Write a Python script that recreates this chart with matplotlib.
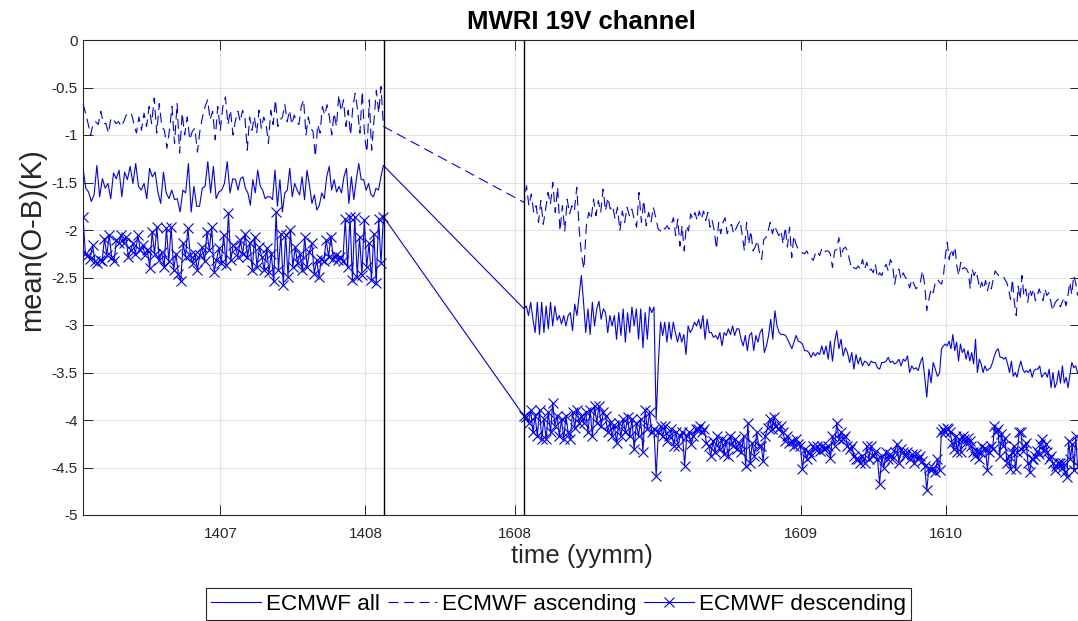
import numpy as np
import matplotlib
matplotlib.use("Agg")
import matplotlib.pyplot as plt
from matplotlib.lines import Line2D

plt.rcParams['font.family'] = ['Liberation Sans', 'DejaVu Sans']
plt.rcParams['axes.unicode_minus'] = False

##############################
#  data (mean O-B, K)
##############################
#-- time is counted in days from the first plotted sample
seg1_edges = [0.0, 32.2, 63.4]                     # 1406-1408 period
seg2_edges = [93.1, 121.9, 151.4, 180.8, 209.9]    # 1607-1610 period

tick_days = [29.0, 59.6, 91.2, 151.5, 182.1]
tick_labels = ['1407', '1408', '1608', '1609', '1610']
break_days = [63.5, 93.15]

ytick_vals = [-5, -4.5, -4, -3.5, -3, -2.5, -2, -1.5, -1, -0.5, 0]
ytick_labels = ['-5', '-4.5', '-4', '-3.5', '-3', '-2.5', '-2', '-1.5', '-1', '-0.5', '0']

#-- ECMWF ascending
asc1 = [
	[-0.67, -0.77, -0.88, -1.00, -0.88, -0.86, -0.89, -0.75, -0.88, -0.88, -0.98, -0.82, -0.84, -0.88, -0.86,
	 -0.91, -0.86, -0.79, -0.77, -0.77, -0.88, -0.98, -0.81, -0.95, -0.77, -0.91, -0.70, -0.88, -0.61, -0.98,
	 -0.67, -0.91, -0.95, -1.14, -0.95, -0.70, -1.09, -0.67, -1.19, -0.77, -1.00, -0.81, -1.05, -0.96, -0.93,
	 -1.18, -0.95, -0.81, -0.70, -0.63, -0.84, -0.75, -1.05, -0.70, -0.95, -0.70, -0.60, -0.89, -0.74, -1.00],
	[-0.84, -0.75, -0.86, -0.74, -0.82, -1.16, -0.81, -0.95, -0.81, -0.98, -0.74, -0.93, -0.81, -0.88, -1.09,
	 -0.74, -0.89, -0.63, -0.91, -0.84, -0.81, -0.68, -0.86, -0.74, -0.89, -0.79, -0.86, -0.89, -0.70, -0.63,
	 -1.00, -0.81, -0.93, -0.96, -1.23, -0.89, -0.98, -0.70, -0.79, -0.68, -0.81, -1.00, -0.77, -0.91, -0.58,
	 -0.75, -0.63, -0.91, -0.74, -1.00, -0.70, -0.56, -0.74, -0.98, -0.54, -1.02, -1.18, -0.63, -1.16, -0.84,
	 -0.53, -0.77, -0.49, -0.91],
]
asc2 = [
	[-1.71, -1.535, -1.745, -1.62, -1.815, -1.745, -1.92, -1.69, -1.94, -1.78, -1.605, -1.73, -1.50, -1.815,
	 -1.55, -2.01, -1.745, -2.01, -1.675, -1.83, -1.745, -1.80, -1.55, -1.99, -2.27, -2.41, -1.956, -1.815,
	 -1.886, -1.675, -1.85, -1.69, -1.815, -1.57, -1.80, -1.66, -1.78, -1.745, -1.886, -1.76, -2.01, -1.80,
	 -1.92, -1.76, -1.85, -1.78, -1.886, -1.97, -1.605, -1.92, -1.69, -1.956, -1.815, -1.92, -1.76, -1.87, -1.99],
	[-2.01, -1.97, -1.99, -1.956, -1.99, -1.94, -1.87, -2.06, -1.886, -2.17, -1.956, -2.22, -1.956, -2.01,
	 -1.83, -1.886, -1.815, -1.90, -1.80, -1.886, -1.80, -1.90, -1.815, -1.97, -1.90, -2.01, -2.20, -1.92,
	 -2.04, -1.92, -1.87, -2.04, -1.97, -1.94, -2.04, -1.99, -1.94, -1.90, -2.06, -2.22, -1.92, -2.15, -2.01,
	 -2.22, -2.18, -2.11, -2.24, -2.31, -2.10, -2.08, -2.01, -1.92, -2.04, -1.956, -2.01, -2.06, -2.01, -2.15,
	 -1.97, -2.18, -1.97, -2.29, -2.06, -2.15, -2.20],
	[-2.22, -2.24, -2.25, -2.22, -2.27, -2.29, -2.32, -2.25, -2.22, -2.27, -2.20, -2.24, -2.22, -2.22, -2.25,
	 -2.395, -2.22, -2.20, -2.08, -2.29, -2.20, -2.18, -2.22, -2.32, -2.41, -2.395, -2.41, -2.38, -2.41, -2.31,
	 -2.41, -2.34, -2.43, -2.41, -2.45, -2.36, -2.50, -2.45, -2.48, -2.41, -2.36, -2.43, -2.31, -2.36, -2.57,
	 -2.45, -2.41, -2.52, -2.45, -2.50, -2.52, -2.61, -2.52, -2.57, -2.62, -2.59, -2.55, -2.43, -2.57, -2.85,
	 -2.73, -2.62, -2.66, -2.55, -2.52],
	[-2.55, -2.57, -2.48, -2.27, -2.13, -2.31, -2.20, -2.27, -2.18, -2.38, -2.48, -2.34, -2.41, -2.395, -2.41,
	 -2.45, -2.62, -2.41, -2.48, -2.43, -2.52, -2.62, -2.55, -2.62, -2.53, -2.64, -2.55, -2.62, -2.52, -2.43,
	 -2.46, -2.48, -2.48, -2.48, -2.52, -2.55, -2.62, -2.73, -2.52, -2.76, -2.90, -2.59, -2.73, -2.48, -2.69,
	 -2.62, -2.76, -2.62, -2.69, -2.62, -2.745, -2.69, -2.62, -2.69, -2.745, -2.62, -2.69, -2.66, -2.745,
	 -2.85, -2.78, -2.745, -2.73, -2.81, -2.76, -2.71, -2.80, -2.69, -2.55, -2.68, -2.48, -2.55, -2.69],
]

#-- ECMWF all
all1 = [
	[-1.35, -1.56, -1.60, -1.70, -1.63, -1.32, -1.65, -1.46, -1.56, -1.51, -1.67, -1.40, -1.46, -1.37, -1.65,
	 -1.39, -1.47, -1.33, -1.51, -1.30, -1.54, -1.58, -1.51, -1.67, -1.35, -1.44, -1.39, -1.60, -1.72, -1.39,
	 -1.61, -1.67, -1.58, -1.68, -1.67, -1.81, -1.58, -1.61, -1.30, -1.81, -1.54, -1.75, -1.75, -1.56, -1.54,
	 -1.28, -1.61, -1.33, -1.67, -1.60, -1.58, -1.51, -1.28, -1.61, -1.46],
	[-1.47, -1.58, -1.46, -1.44, -1.56, -1.61, -1.74, -1.47, -1.61, -1.37, -1.54, -1.58, -1.67, -1.65, -1.65,
	 -1.68, -1.37, -1.75, -1.47, -1.81, -1.61, -1.58, -1.35, -1.65, -1.51, -1.58, -1.63, -1.44, -1.68, -1.37,
	 -1.53, -1.72, -1.63, -1.79, -1.74, -1.61, -1.67, -1.44, -1.33, -1.58, -1.47, -1.60, -1.54, -1.61, -1.44,
	 -1.35, -1.72, -1.44, -1.68, -1.47, -1.30, -1.47, -1.47, -1.58, -1.51, -1.63, -1.65, -1.56, -1.58, -1.44,
	 -1.32],
]
all2 = [
	[-2.83, -2.80, -2.90, -2.76, -2.94, -3.08, -2.76, -3.10, -2.76, -3.08, -2.80, -3.04, -2.76, -3.01, -2.80,
	 -2.95, -2.90, -2.99, -2.90, -3.01, -2.90, -2.87, -3.06, -2.78, -2.90, -2.69, -2.48, -2.76, -3.08, -2.83,
	 -3.10, -2.76, -3.01, -2.83, -2.75, -2.94, -2.83, -2.87, -3.08, -2.90, -3.01, -2.90, -3.15, -2.87, -3.11,
	 -2.83, -3.18, -2.87, -3.08, -2.81, -3.01, -2.83, -3.15, -2.83, -3.24, -2.87, -3.15, -2.81, -2.87, -2.81,
	 -4.00, -3.40],
	[-2.97, -3.11, -2.97, -3.18, -2.97, -3.15, -2.97, -3.08, -3.18, -3.08, -3.18, -3.10, -3.31, -3.01, -3.08,
	 -3.04, -2.97, -3.01, -2.94, -3.04, -2.90, -3.15, -2.94, -3.08, -3.08, -3.13, -3.11, -3.15, -3.08, -3.22,
	 -3.08, -3.11, -3.04, -3.10, -3.01, -3.11, -3.04, -3.04, -3.15, -3.22, -3.11, -3.27, -3.11, -3.08, -3.27,
	 -3.11, -3.18, -3.08, -3.04, -3.29, -3.22, -3.11, -2.94, -3.15, -2.85, -3.01, -3.08, -3.10, -3.10, -3.11,
	 -3.15, -3.20, -3.25, -3.18, -3.11, -3.17],
	[-3.18, -3.20, -3.27, -3.27, -3.29, -3.34, -3.29, -3.325, -3.29, -3.31, -3.22, -3.31, -3.22, -3.36, -3.17,
	 -3.38, -3.18, -3.06, -3.25, -3.15, -3.325, -3.24, -3.29, -3.395, -3.29, -3.465, -3.31, -3.41, -3.34,
	 -3.43, -3.38, -3.395, -3.43, -3.38, -3.395, -3.395, -3.45, -3.465, -3.395, -3.395, -3.38, -3.34, -3.395,
	 -3.38, -3.41, -3.395, -3.36, -3.43, -3.36, -3.38, -3.325, -3.50, -3.43, -3.465, -3.45, -3.48, -3.395,
	 -3.34, -3.54, -3.76, -3.465, -3.61, -3.395, -3.465, -3.54],
	[-3.50, -3.25, -3.22, -3.20, -3.22, -3.17, -3.25, -3.10, -3.27, -3.18, -3.38, -3.20, -3.29, -3.25, -3.36,
	 -3.27, -3.38, -3.29, -3.41, -3.15, -3.50, -3.36, -3.41, -3.50, -3.43, -3.48, -3.465, -3.45, -3.395,
	 -3.325, -3.27, -3.25, -3.34, -3.34, -3.36, -3.34, -3.41, -3.50, -3.38, -3.54, -3.50, -3.55, -3.45, -3.38,
	 -3.465, -3.50, -3.48, -3.50, -3.465, -3.55, -3.48, -3.465, -3.465, -3.43, -3.55, -3.52, -3.50, -3.55,
	 -3.465, -3.66, -3.50, -3.66, -3.61, -3.48, -3.61, -3.43, -3.61, -3.55, -3.66, -3.52, -3.395, -3.45,
	 -3.43, -3.50],
]

#-- ECMWF descending
desc1 = [
	[-1.86, -2.25, -2.26, -2.30, -2.16, -2.33, -2.35, -2.32, -2.33, -2.09, -2.26, -2.05, -2.28, -2.33, -2.11,
	 -2.14, -2.05, -2.14, -2.07, -2.28, -2.21, -2.14, -2.25, -2.05, -2.21, -2.16, -2.26, -2.21, -2.40, -2.02,
	 -2.25, -1.97, -2.32, -2.23, -2.39, -1.98, -2.33, -1.97, -2.42, -2.25, -2.46, -2.54, -2.14, -2.28, -1.98,
	 -2.26, -2.35, -2.25, -2.42, -2.26, -2.18, -2.33, -2.02, -2.21, -1.97, -2.44, -2.32, -2.19, -2.35, -2.05,
	 -2.37, -1.82, -2.32, -2.16],
	[-2.19, -2.28, -2.11, -2.25, -2.04, -2.28, -2.14, -2.42, -2.07, -2.39, -2.18, -2.28, -2.42, -2.19, -2.44,
	 -2.25, -2.54, -1.81, -2.42, -2.04, -2.58, -2.05, -2.49, -2.00, -2.39, -2.18, -2.35, -2.25, -2.42, -2.07,
	 -2.39, -2.23, -2.14, -2.46, -2.32, -2.49, -2.30, -2.33, -2.11, -2.28, -2.07, -2.30, -2.26, -2.32, -2.28,
	 -2.33, -1.88, -2.39, -1.86, -2.53, -1.86, -2.49, -2.07, -2.47, -1.89, -2.39, -2.14, -2.53, -2.04, -2.56,
	 -1.88, -2.35, -1.86],
]
desc2 = [
	[-3.96, -3.97, -4.03, -3.89, -4.13, -3.96, -4.17, -3.89, -4.20, -3.99, -4.20, -3.92, -4.13, -3.82, -4.06,
	 -3.96, -4.17, -3.99, -4.20, -3.96, -4.13, -4.20, -3.92, -4.08, -3.89, -4.03, -3.96, -4.03, -3.92, -4.13,
	 -3.89, -4.17, -3.85, -4.03, -3.85, -4.06, -3.92, -3.96, -4.13, -4.03, -4.17, -4.05, -4.24, -4.03, -4.17,
	 -3.99, -4.13, -3.97, -4.17, -3.99, -4.31, -4.03, -4.17, -3.99, -4.34, -3.89, -4.10, -3.92, -4.13, -4.10,
	 -4.59, -4.13],
	[-4.06, -4.17, -4.06, -4.22, -4.17, -4.10, -4.27, -4.13, -4.27, -4.17, -4.13, -4.48, -4.17, -4.13, -4.25,
	 -4.17, -4.10, -4.10, -4.06, -4.13, -4.10, -4.24, -4.27, -4.38, -4.22, -4.34, -4.17, -4.31, -4.20, -4.36,
	 -4.22, -4.38, -4.17, -4.27, -4.20, -4.31, -4.24, -4.34, -4.17, -4.48, -4.03, -4.45, -4.24, -4.38, -4.13,
	 -4.27, -4.27, -4.43, -4.17, -4.08, -3.99, -4.10, -3.97, -4.06, -4.10, -4.06, -4.13, -4.22, -4.17, -4.24,
	 -4.22, -4.27, -4.20, -4.25],
	[-4.27, -4.52, -4.31, -4.41, -4.34, -4.38, -4.27, -4.31, -4.27, -4.33, -4.27, -4.31, -4.29, -4.27, -4.40,
	 -4.17, -4.27, -4.03, -4.20, -4.13, -4.20, -4.17, -4.27, -4.31, -4.27, -4.38, -4.41, -4.41, -4.45, -4.38,
	 -4.45, -4.27, -4.41, -4.27, -4.38, -4.34, -4.41, -4.67, -4.38, -4.50, -4.34, -4.41, -4.36, -4.41, -4.34,
	 -4.25, -4.45, -4.31, -4.34, -4.38, -4.34, -4.41, -4.36, -4.45, -4.36, -4.41, -4.38, -4.43, -4.48, -4.74,
	 -4.50, -4.53, -4.50, -4.55, -4.41],
	[-4.53, -4.13, -4.10, -4.13, -4.08, -4.10, -4.13, -4.24, -4.31, -4.17, -4.34, -4.20, -4.34, -4.17, -4.20,
	 -4.24, -4.19, -4.22, -4.27, -4.34, -4.38, -4.33, -4.41, -4.34, -4.27, -4.31, -4.31, -4.53, -4.34, -4.27,
	 -4.31, -4.06, -4.13, -4.10, -4.38, -4.15, -4.27, -4.19, -4.45, -4.38, -4.52, -4.34, -4.27, -4.52, -4.34,
	 -4.13, -4.13, -4.33, -4.27, -4.24, -4.45, -4.55, -4.41, -4.41, -4.38, -4.33, -4.36, -4.25, -4.20, -4.33,
	 -4.25, -4.34, -4.41, -4.38, -4.45, -4.53, -4.48, -4.45, -4.45, -4.50, -4.45, -4.55, -4.60, -4.22, -4.41,
	 -4.25, -4.53, -4.17, -4.48],
]


##############################
#  helpers
##############################
def chunk_days(edges, chunks, close_end):
	"""
		Spread the samples of each chunk evenly over its time window
	"""
	xs = []
	for i, c in enumerate(chunks):
		last = close_end and i == len(chunks) - 1
		xs.append(np.linspace(edges[i], edges[i+1], len(c), endpoint=last))
	return np.concatenate(xs)


def series(chunks1, chunks2):
	x = np.concatenate([chunk_days(seg1_edges, chunks1, True), chunk_days(seg2_edges, chunks2, True)])
	y = np.concatenate([np.concatenate(chunks1), np.concatenate(chunks2)])
	return x, y


##############################
#  figure
##############################
W, H = 1078, 621
fig = plt.figure(figsize=(W/100., H/100.), dpi=100)
ax = fig.add_axes([83./W, 1-515./H, (1080.-83.)/W, (515.-40.)/H])

blue = (0, 0, 1)
lw = 0.8

x_all, y_all = series(all1, all2)
x_asc, y_asc = series(asc1, asc2)
x_desc, y_desc = series(desc1, desc2)

ax.plot(x_all, y_all, '-', color=blue, lw=lw, zorder=3)
ax.plot(x_asc, y_asc, '--', color=blue, lw=lw, dashes=(9, 5), zorder=3)
ax.plot(x_desc, y_desc, '-', color=blue, lw=lw, marker='x', ms=7, mew=0.8, zorder=3)

for d in break_days:
	ax.axvline(d, color='k', lw=1.0, zorder=4)

ax.set_xlim(0, (1080.-83.)/4.738)
ax.set_ylim(-5, 0)
ax.set_xticks(tick_days)
ax.set_xticklabels(tick_labels)
ax.set_yticks(ytick_vals)
ax.set_yticklabels(ytick_labels)

grey = '#262626'
ax.grid(True, color='#e3e3e3', lw=0.8, zorder=0)
ax.set_axisbelow(True)
ax.tick_params(direction='in', length=7, width=0.7, colors=grey, labelsize=11,
	top=True, right=True)
ax.tick_params(axis='x', pad=9)
ax.tick_params(axis='y', pad=4)
for s in ax.spines.values():
	s.set_color(grey)
	s.set_linewidth(0.8)

ax.set_xlabel('time (yymm)', fontsize=18.5, color=grey, labelpad=2)
ax.set_ylabel('mean(O-B)(K)', fontsize=21, color=grey)
ax.yaxis.set_label_coords(-0.037, 0.58)
ax.set_title('MWRI 19V channel', fontsize=18.5, fontweight='bold', pad=8)

handles = [
	Line2D([], [], color=blue, lw=lw),
	Line2D([], [], color=blue, lw=lw, ls='--', dashes=(9, 5)),
	Line2D([], [], color=blue, lw=lw, marker='x', ms=7, mew=0.8),
]
leg = fig.legend(handles, ['ECMWF all', 'ECMWF ascending', 'ECMWF descending'],
	loc='upper center', bbox_to_anchor=(558.5/W, 1-588./H), ncol=3, fontsize=16.2,
	frameon=True, fancybox=False, framealpha=1, edgecolor=grey, borderpad=0.25,
	handlelength=2.2, handletextpad=0.22, columnspacing=0.35, borderaxespad=0)
leg.get_frame().set_linewidth(0.8)

fig.savefig('out.png', dpi=100)
